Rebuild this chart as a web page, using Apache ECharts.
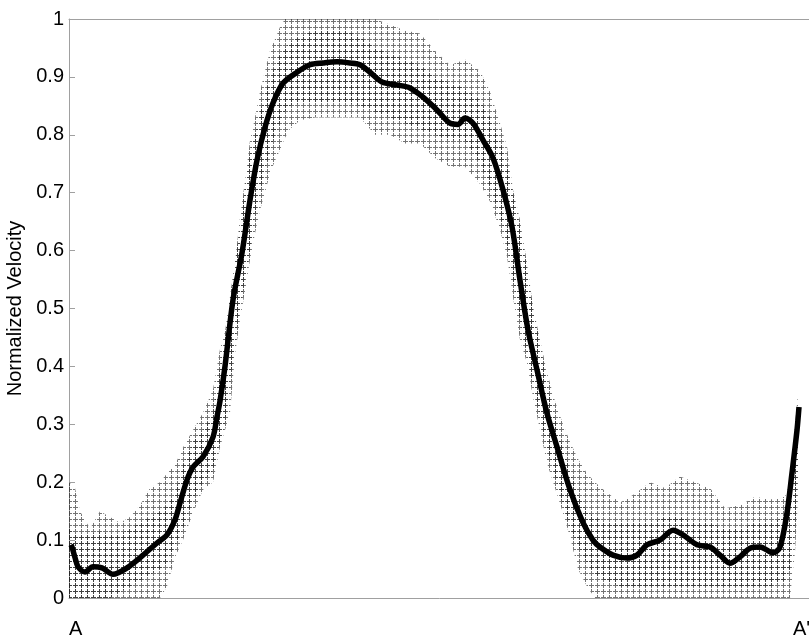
<!DOCTYPE html>
<html><head><meta charset="utf-8">
<script src="https://cdn.jsdelivr.net/npm/echarts@6/dist/echarts.min.js"></script>
<style>html,body{margin:0;padding:0;background:#fff}#c{width:809px;height:641px}</style>
</head><body><div id="c"></div>
<script>
// Position along the section A -> A' (arbitrary sample units; A = 0, A' = 724)
const xTickLabels = {0: 'A', 724: "A'"};
const yTickValues = [0, 0.1, 0.2, 0.3, 0.4, 0.5, 0.6, 0.7, 0.8, 0.9, 1];

// Scatter cloud of individual measurements: outer extent and dense core
const bandX = [0,6,11,21,31,41,51,61,71,81,91,98,106,114,124,134,144,151,156,161,166,171,176,181,186,191,196,201,206,211,216,221,231,246,261,276,291,306,321,336,351,366,381,396,411,421,431,438,444,451,458,464,471,478,486,494,501,509,518,526,536,551,566,581,596,611,626,641,656,671,686,701,716,721,726,730];
const outerLow = [0,0,0,0,0,0,0,0,0,0,0,0.02,0.07,0.10,0.147,0.187,0.20,0.26,0.29,0.32,0.42,0.48,0.53,0.584,0.63,0.67,0.70,0.734,0.755,0.774,0.795,0.81,0.825,0.83,0.83,0.83,0.83,0.80,0.80,0.785,0.785,0.76,0.745,0.745,0.715,0.685,0.636,0.59,0.52,0.446,0.406,0.347,0.29,0.233,0.19,0.147,0.105,0.05,0.02,0,0,0,0,0,0,0,0,0,0,0,0,0,0,0,0.08,0.2];
const outerHigh = [0.20,0.19,0.15,0.12,0.15,0.14,0.13,0.14,0.16,0.19,0.20,0.215,0.23,0.26,0.29,0.32,0.36,0.43,0.46,0.52,0.58,0.658,0.72,0.79,0.83,0.875,0.91,0.945,0.965,0.986,1,1,1,1,1,1,1,1,0.99,0.98,0.975,0.945,0.92,0.93,0.91,0.875,0.82,0.78,0.705,0.653,0.579,0.503,0.446,0.39,0.34,0.30,0.27,0.24,0.215,0.20,0.185,0.165,0.18,0.20,0.19,0.21,0.20,0.19,0.155,0.16,0.175,0.17,0.175,0.20,0.30,0.37];
const innerLow = [0,0,0,0,0,0,0.01,0.02,0.03,0.04,0.05,0.06,0.09,0.12,0.17,0.20,0.22,0.27,0.30,0.37,0.44,0.50,0.55,0.60,0.66,0.70,0.74,0.77,0.80,0.82,0.84,0.85,0.855,0.855,0.855,0.855,0.85,0.84,0.83,0.82,0.81,0.80,0.79,0.79,0.75,0.71,0.66,0.61,0.55,0.48,0.42,0.37,0.31,0.26,0.21,0.16,0.12,0.09,0.06,0.04,0.03,0.02,0.02,0.02,0.02,0.02,0.02,0.02,0.02,0.02,0.02,0.02,0.03,0.05,0.12,0.25];
const innerHigh = [0.12,0.11,0.11,0.11,0.115,0.11,0.11,0.12,0.13,0.14,0.15,0.16,0.18,0.23,0.27,0.29,0.32,0.40,0.45,0.52,0.58,0.64,0.71,0.77,0.80,0.84,0.87,0.90,0.92,0.94,0.95,0.96,0.97,0.98,0.98,0.98,0.97,0.95,0.94,0.93,0.92,0.90,0.89,0.88,0.86,0.83,0.79,0.75,0.70,0.64,0.57,0.50,0.44,0.37,0.31,0.26,0.22,0.18,0.15,0.14,0.13,0.13,0.13,0.13,0.14,0.14,0.13,0.13,0.12,0.12,0.13,0.13,0.14,0.18,0.28,0.35];

// Mean profile (thick black line)
const meanX = [2,3,6,9,16,24,33,44,58,74,88,98,106,111,118,124,134,144,148,151,156,164,173,181,188,196,204,214,228,241,254,268,281,291,301,313,328,341,354,368,381,389,396,404,414,424,434,443,451,459,468,478,488,501,514,524,531,544,558,568,578,591,604,614,628,641,651,661,671,681,691,704,711,718,723,728,730];
const meanY = [0.092,0.088,0.070,0.054,0.045,0.054,0.052,0.041,0.052,0.074,0.095,0.109,0.135,0.164,0.204,0.226,0.244,0.278,0.313,0.340,0.400,0.515,0.596,0.687,0.756,0.813,0.855,0.889,0.908,0.921,0.924,0.926,0.924,0.921,0.908,0.891,0.886,0.881,0.865,0.843,0.820,0.818,0.829,0.820,0.791,0.760,0.705,0.641,0.549,0.463,0.394,0.319,0.261,0.187,0.130,0.100,0.088,0.074,0.069,0.074,0.092,0.100,0.117,0.109,0.092,0.088,0.074,0.060,0.071,0.086,0.088,0.078,0.088,0.147,0.216,0.290,0.330];

function pairs(xs, ys) { return xs.map((x, i) => [x, ys[i]]); }
function crossTile(alpha) {
  const c = document.createElement('canvas');
  c.width = 6; c.height = 6;
  const g = c.getContext('2d');
  g.fillStyle = 'rgba(0,0,0,' + alpha + ')';
  g.fillRect(1, 3, 5, 1);
  g.fillRect(3, 1, 1, 2);
  g.fillRect(3, 4, 1, 2);
  return c;
}
// A band (low..high) drawn as one polygon through the axis scales
function bandSeries(low, high, alpha, z) {
  const pattern = { image: crossTile(alpha), repeat: 'repeat' };
  return {
    type: 'custom', z: z, silent: true, clip: true,
    data: bandX.map((x, i) => [x, low[i], high[i]]),
    encode: { x: 0, y: [1, 2] },
    renderItem: function (params, api) {
      if (params.dataIndex !== 0) return null;
      const pts = [];
      for (let i = 0; i < bandX.length; i++) pts.push(api.coord([bandX[i], low[i]]));
      for (let i = bandX.length - 1; i >= 0; i--) pts.push(api.coord([bandX[i], high[i]]));
      return { type: 'polygon', shape: { points: pts }, style: { fill: pattern, stroke: null } };
    }
  };
}
const FONT = 'Liberation Sans, Arial, Helvetica, sans-serif';
const AXIS_GREY = '#a0a0a0';

const chart = echarts.init(document.getElementById('c'), null, { renderer: 'canvas' });
chart.setOption({
  animation: false,
  backgroundColor: '#fff',
  grid: { left: 69, top: 19, width: 760, height: 579, containLabel: false, outerBoundsMode: 'none' },
  xAxis: [{
    type: 'value', min: 0, max: 760, interval: 724,
    axisLine: { show: true, lineStyle: { color: AXIS_GREY, width: 1 } },
    axisTick: { show: false }, splitLine: { show: false },
    axisLabel: { formatter: v => xTickLabels[v] || '', align: 'left', margin: 21, fontSize: 20, color: '#000', fontFamily: FONT }
  }, {
    type: 'value', position: 'top', min: 0, max: 760,
    axisLine: { show: true, onZero: false, lineStyle: { color: AXIS_GREY, width: 1 } },
    axisTick: { show: false }, axisLabel: { show: false }, splitLine: { show: false }
  }],
  yAxis: {
    type: 'value', min: yTickValues[0], max: yTickValues[yTickValues.length - 1], interval: 0.1,
    name: 'Normalized Velocity', nameLocation: 'middle', nameGap: 36,
    nameTextStyle: { fontSize: 20, color: '#000', fontFamily: FONT },
    axisLine: { show: true, lineStyle: { color: AXIS_GREY, width: 1 } },
    axisTick: { show: true, inside: true, length: 6, lineStyle: { color: AXIS_GREY } },
    axisLabel: { fontSize: 20, color: '#000', margin: 5, fontFamily: FONT },
    splitLine: { show: false }
  },
  series: [
    bandSeries(outerLow, outerHigh, 0.55, 2),
    bandSeries(innerLow, innerHigh, 0.45, 3),
    { type: 'line', data: pairs(meanX, meanY), symbol: 'none', smooth: 0.3, z: 5,
      lineStyle: { color: '#000', width: 5.5 } }
  ]
});
</script>
</body></html>
